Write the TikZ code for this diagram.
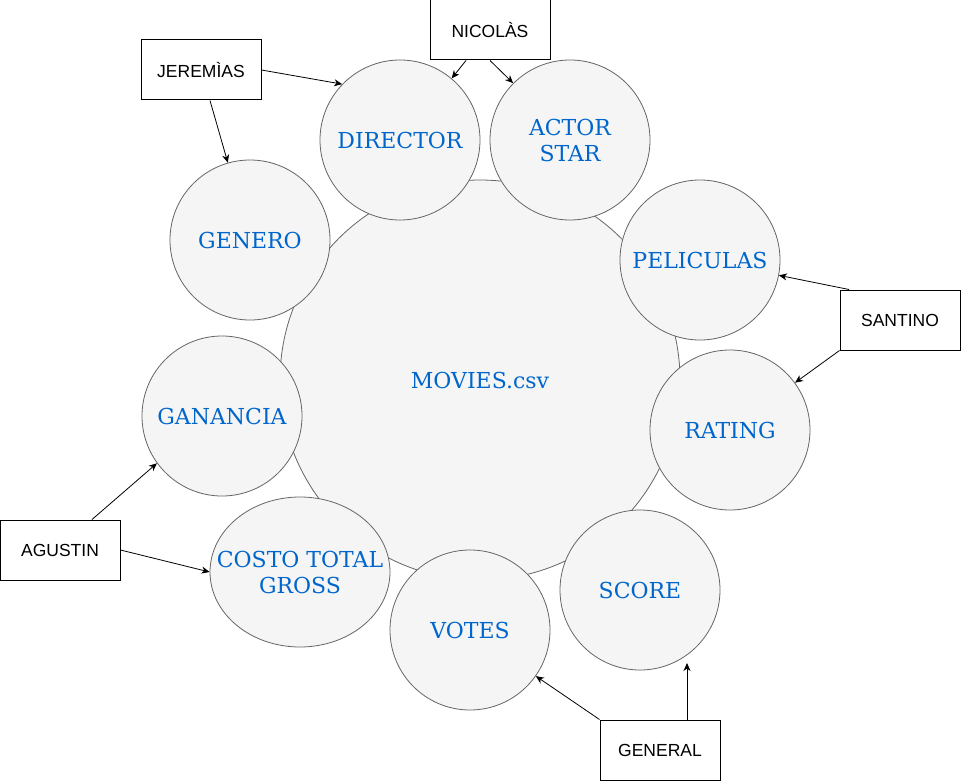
\documentclass[tikz,border=0pt]{standalone}
\usepackage{fontspec}
\setmainfont{Liberation Sans}
\newfontfamily\bubblefont{DejaVu Serif}
\usetikzlibrary{arrows.meta,shapes.geometric,calc}
\definecolor{lgray}{HTML}{F5F5F5}
\definecolor{dgray}{HTML}{666666}
\definecolor{tblue}{HTML}{0066CC}
\tikzset{
    bubble/.style = {circle,
                    fill=lgray,
                    draw=dgray,
                    text=tblue,
                    line width=0.8pt,
                    inner sep=0pt,
                    align=center,
                    minimum size=160pt,
                    font=\bubblefont\fontsize{22}{26}\selectfont},
    hub/.style =    {bubble,
                    minimum size=400pt},
    oval/.style =   {bubble,
                    ellipse,
                    inner sep=-22pt,
                    minimum width=180pt,
                    minimum height=150pt},
    person/.style = {rectangle,
                    fill=white,
                    draw=black,
                    text=black,
                    line width=1pt,
                    minimum width=120pt,
                    minimum height=60pt,
                    font=\fontsize{17.5}{21}\selectfont},
    -,
    >={Stealth[length=8pt,width=7pt,inset=2.5pt]}}
\begin{document}
\begin{tikzpicture}[x=1pt,y=-1pt]
                \useasboundingbox[fill=white] (0,0) rectangle (961,781);
                % the csv and its columns
                \node[hub]      (movies)    at (480,380)    {MOVIES.csv};
                \node[bubble]   (director)  at (400,140)    {DIRECTOR};
                \node[bubble]   (actor)     at (570,140)    {ACTOR\\STAR};
                \node[bubble]   (peliculas) at (700,260)    {PELICULAS};
                \node[bubble]   (rating)    at (730,430)    {RATING};
                \node[bubble]   (score)     at (640,590)    {SCORE};
                \node[oval]     (costo)     at (300,572)    {COSTO TOTAL\\GROSS};
                \node[bubble]   (votes)     at (470,630)    {VOTES};
                \node[bubble]   (ganancia)  at (222,416)    {GANANCIA};
                \node[bubble]   (genero)    at (250,240)    {GENERO};
                % who does what
                \node[person]   (nicolas)   at (490,30)     {NICOLÀS};
                \node[person]   (jeremias)  at (201,70)     {JEREMÌAS};
                \node[person]   (santino)   at (900,320)    {SANTINO};
                \node[person]   (agustin)   at (60,550)     {AGUSTIN};
                \node[person]   (general)   at (660,750)    {GENERAL};
                \coordinate     (scoreend)  at (687,663);
                \path [line width=0.8pt,->]
                    (jeremias.east)                 edge (director.136)
                    ([xshift=9pt]jeremias.south)    edge (genero.106)
                    ([xshift=-24pt]nicolas.south)   edge (director.50)
                    (nicolas.south)                 edge (actor.135)
                    ([xshift=-51pt]santino.north)   edge (peliculas.-11)
                    (santino.south west)            edge (rating.36)
                    ([xshift=32pt]agustin.north)    edge (ganancia.216)
                    (agustin.east)                  edge (costo.west)
                    (general.north west)            edge (votes.-35)
                    ([xshift=27pt]general.north)    edge (scoreend);
\end{tikzpicture}
\end{document}
